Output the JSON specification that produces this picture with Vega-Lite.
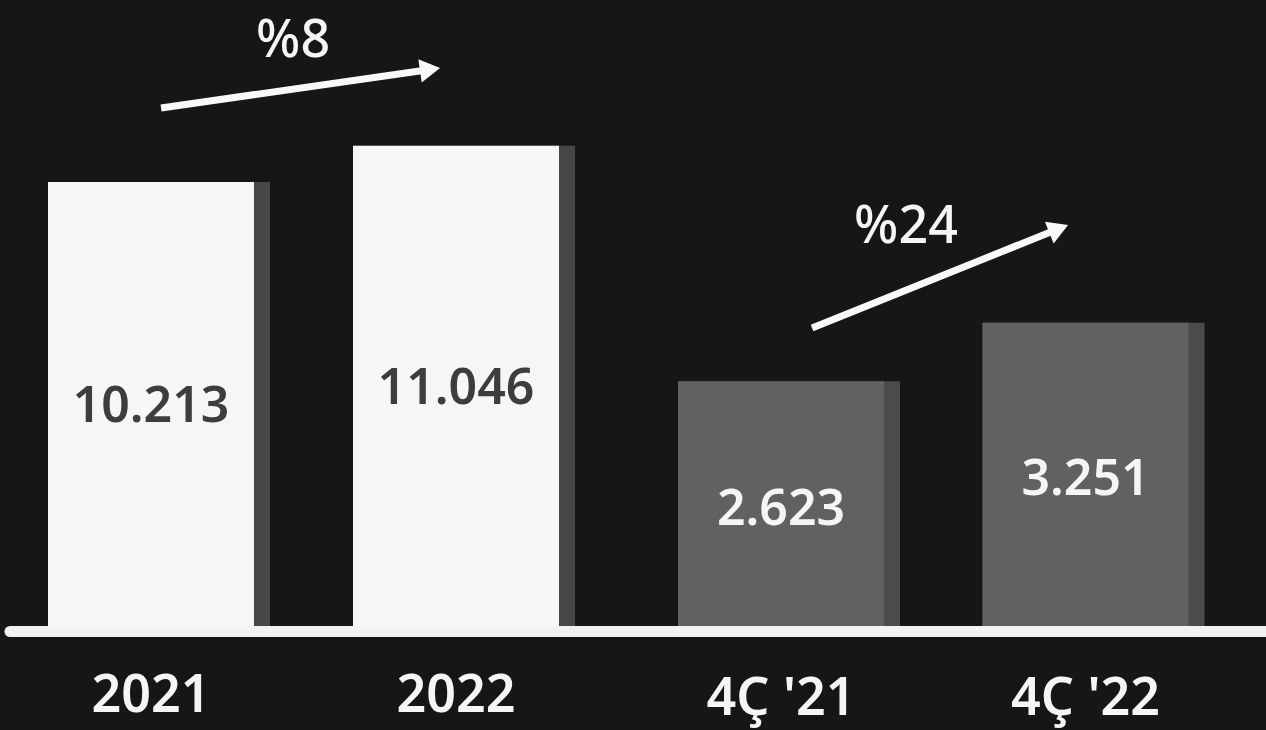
{
  "$schema": "https://vega.github.io/schema/vega-lite/v6.json",
  "width": 1256,
  "height": 626,
  "autosize": "none",
  "padding": {"left": 10, "top": 0, "right": 0, "bottom": 104},
  "background": "#161616",
  "config": {"view": {"stroke": null}},
  "datasets": {
    "annual": [
      {"period": "2021", "value": 10213, "label": "10.213"},
      {"period": "2022", "value": 11046, "label": "11.046"}
    ],
    "quarterly": [
      {"period": "4Ç '21", "value": 2623, "label": "2.623"},
      {"period": "4Ç '22", "value": 3251, "label": "3.251"}
    ],
    "annualArrow": [
      {"from": "2021", "to": "2022", "y0": 11916, "y1": 12802, "ty": 13090, "pct": "%8"}
    ],
    "quarterlyArrow": [
      {"from": "4Ç '21", "to": "4Ç '22", "y0": 3194, "y1": 4258, "ty": 4105, "pct": "%24"}
    ]
  },
  "layer": [
    {
      "data": {"name": "annual"},
      "mark": {"type": "bar", "width": 222, "xOffset": 8, "color": "#474747"},
      "encoding": {
        "x": {"field": "period", "type": "nominal", "sort": null, "scale": {"type": "band", "domain": ["2021", "2022"], "range": [-11.5, 598.5], "padding": 0}, "axis": null},
        "y": {"field": "value", "type": "quantitative", "scale": {"domain": [0, 14400]}, "axis": null}
      }
    },
    {
      "data": {"name": "annual"},
      "mark": {"type": "bar", "width": 206, "color": "#f6f6f6"},
      "encoding": {
        "x": {"field": "period", "type": "nominal", "sort": null, "scale": {"type": "band", "domain": ["2021", "2022"], "range": [-11.5, 598.5], "padding": 0},
          "axis": {"orient": "bottom", "title": null, "domain": false, "ticks": false, "grid": false, "labelAngle": 0, "labelFont": "Noto Sans", "labelFontSize": 52, "labelFontWeight": 600, "labelColor": "#f5f5f5", "labelBaseline": "alphabetic", "labelPadding": 85}},
        "y": {"field": "value", "type": "quantitative", "scale": {"domain": [0, 14400]}, "axis": null}
      }
    },
    {
      "data": {"name": "quarterly"},
      "mark": {"type": "bar", "width": 222, "xOffset": 8, "color": "#4b4b4b"},
      "encoding": {
        "x": {"field": "period", "type": "nominal", "sort": null, "scale": {"type": "band", "domain": ["4Ç '21", "4Ç '22"], "range": [618.75, 1227.75], "padding": 0}, "axis": null},
        "y": {"field": "value", "type": "quantitative", "scale": {"domain": [0, 6710]}, "axis": null}
      }
    },
    {
      "data": {"name": "quarterly"},
      "mark": {"type": "bar", "width": 206, "color": "#616161"},
      "encoding": {
        "x": {"field": "period", "type": "nominal", "sort": null, "scale": {"type": "band", "domain": ["4Ç '21", "4Ç '22"], "range": [618.75, 1227.75], "padding": 0},
          "axis": {"orient": "bottom", "title": null, "domain": false, "ticks": false, "grid": false, "labelAngle": 0, "labelFont": "Noto Sans", "labelFontSize": 52, "labelFontWeight": 600, "labelColor": "#f5f5f5", "labelBaseline": "alphabetic", "labelPadding": 88}},
        "y": {"field": "value", "type": "quantitative", "scale": {"domain": [0, 6710]}, "axis": null}
      }
    },
    {
      "data": {"name": "annual"},
      "mark": {"type": "text", "font": "Noto Sans", "fontSize": 50, "fontWeight": 600, "color": "#3d3d3d", "baseline": "middle", "align": "center", "dy": 3},
      "encoding": {
        "x": {"field": "period", "type": "nominal", "sort": null, "bandPosition": 0.5, "scale": {"type": "band", "domain": ["2021", "2022"], "range": [-11.5, 598.5], "padding": 0}, "axis": null},
        "y": {"field": "value", "type": "quantitative", "scale": {"domain": [0, 28800]}, "axis": null},
        "text": {"field": "label"}
      }
    },
    {
      "data": {"name": "quarterly"},
      "mark": {"type": "text", "font": "Noto Sans", "fontSize": 50, "fontWeight": 600, "color": "#f5f5f5", "baseline": "middle", "align": "center", "dy": 6},
      "encoding": {
        "x": {"field": "period", "type": "nominal", "sort": null, "bandPosition": 0.5, "scale": {"type": "band", "domain": ["4Ç '21", "4Ç '22"], "range": [618.75, 1227.75], "padding": 0}, "axis": null},
        "y": {"field": "value", "type": "quantitative", "scale": {"domain": [0, 13420]}, "axis": null},
        "text": {"field": "label"}
      }
    },
    {
      "data": {"values": [{"base": 0}]},
      "mark": {"type": "rule", "strokeWidth": 11, "yOffset": 5.5, "strokeCap": "round", "color": "#f2f2f2"},
      "encoding": {
        "y": {"field": "base", "type": "quantitative", "scale": {"domain": [0, 14400]}, "axis": null}
      }
    },
    {
      "data": {"name": "annualArrow"},
      "mark": {"type": "rule", "strokeWidth": 7, "color": "#f8f8f8"},
      "encoding": {
        "x": {"field": "from", "type": "nominal", "bandPosition": 0.533, "scale": {"type": "band", "domain": ["2021", "2022"], "range": [-11.5, 598.5], "padding": 0}, "axis": null},
        "x2": {"field": "to", "bandPosition": 0.415},
        "y": {"field": "y0", "type": "quantitative", "scale": {"domain": [0, 14400]}, "axis": null},
        "y2": {"field": "y1"}
      }
    },
    {
      "data": {"name": "annualArrow"},
      "mark": {"type": "point", "shape": "triangle-right", "filled": true, "size": 550, "angle": 351.8, "opacity": 1, "color": "#f8f8f8"},
      "encoding": {
        "x": {"field": "to", "type": "nominal", "bandPosition": 0.415, "scale": {"type": "band", "domain": ["2021", "2022"], "range": [-11.5, 598.5], "padding": 0}, "axis": null},
        "y": {"field": "y1", "type": "quantitative", "scale": {"domain": [0, 14400]}, "axis": null}
      }
    },
    {
      "data": {"name": "annualArrow"},
      "mark": {"type": "text", "font": "Noto Sans", "fontSize": 52, "fontWeight": 500, "color": "#f5f5f5", "baseline": "alphabetic", "align": "center"},
      "encoding": {
        "x": {"field": "from", "type": "nominal", "bandPosition": 0.966, "scale": {"type": "band", "domain": ["2021", "2022"], "range": [-11.5, 598.5], "padding": 0}, "axis": null},
        "y": {"field": "ty", "type": "quantitative", "scale": {"domain": [0, 14400]}, "axis": null},
        "text": {"field": "pct"}
      }
    },
    {
      "data": {"name": "quarterlyArrow"},
      "mark": {"type": "rule", "strokeWidth": 7, "color": "#f8f8f8"},
      "encoding": {
        "x": {"field": "from", "type": "nominal", "bandPosition": 0.602, "scale": {"type": "band", "domain": ["4Ç '21", "4Ç '22"], "range": [618.75, 1227.75], "padding": 0}, "axis": null},
        "x2": {"field": "to", "bandPosition": 0.412},
        "y": {"field": "y0", "type": "quantitative", "scale": {"domain": [0, 6710]}, "axis": null},
        "y2": {"field": "y1"}
      }
    },
    {
      "data": {"name": "quarterlyArrow"},
      "mark": {"type": "point", "shape": "triangle-right", "filled": true, "size": 550, "angle": 338.1, "opacity": 1, "color": "#f8f8f8"},
      "encoding": {
        "x": {"field": "to", "type": "nominal", "bandPosition": 0.412, "scale": {"type": "band", "domain": ["4Ç '21", "4Ç '22"], "range": [618.75, 1227.75], "padding": 0}, "axis": null},
        "y": {"field": "y1", "type": "quantitative", "scale": {"domain": [0, 6710]}, "axis": null}
      }
    },
    {
      "data": {"name": "quarterlyArrow"},
      "mark": {"type": "text", "font": "Noto Sans", "fontSize": 52, "fontWeight": 500, "color": "#f5f5f5", "baseline": "alphabetic", "align": "center"},
      "encoding": {
        "x": {"field": "from", "type": "nominal", "bandPosition": 0.9105, "scale": {"type": "band", "domain": ["4Ç '21", "4Ç '22"], "range": [618.75, 1227.75], "padding": 0}, "axis": null},
        "y": {"field": "ty", "type": "quantitative", "scale": {"domain": [0, 6710]}, "axis": null},
        "text": {"field": "pct"}
      }
    }
  ],
  "resolve": {
    "scale": {"x": "independent", "y": "independent"},
    "axis": {"x": "independent", "y": "independent"}
  }
}
